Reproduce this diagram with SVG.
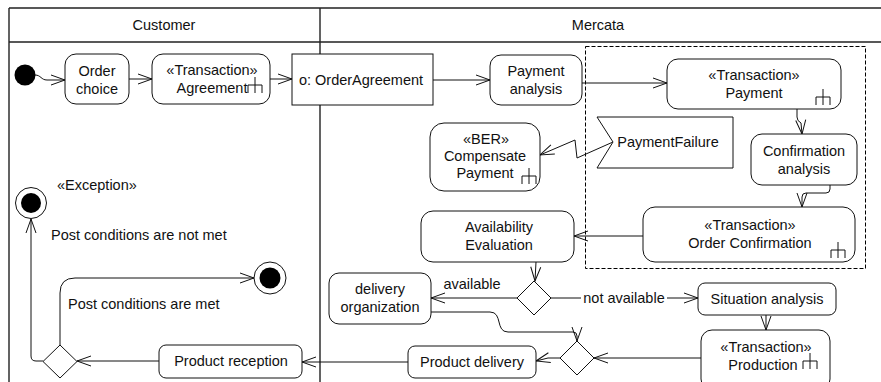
<svg xmlns="http://www.w3.org/2000/svg" width="881" height="382" viewBox="0 0 881 382">
<style>
.n{fill:#fff;stroke:#111;stroke-width:1}
.t{font-family:"Liberation Sans",Arial,sans-serif;font-size:14.5px;fill:#111;text-anchor:middle}
.s{font-family:"Liberation Sans",Arial,sans-serif;font-size:14.5px;fill:#111}
.c{fill:none;stroke:#111;stroke-width:1}
.f{fill:none;stroke:#222;stroke-width:1.4}
.r{fill:none;stroke:#111;stroke-width:1}
.d{fill:none;stroke:#000;stroke-width:1;stroke-dasharray:4,2}
</style>
<defs>
<marker id="a" viewBox="-15 -7 17 14" markerWidth="17" markerHeight="14" refX="0" refY="0" orient="auto" markerUnits="userSpaceOnUse">
<path d="M-14,-5 L0,0 L-14,5" fill="none" stroke="#111" stroke-width="1"/>
</marker>
<path id="rake" d="M0,0 V16 M-7,8 H7 M-7,8 V16 M7,8 V16" class="r"/>
</defs>

<g id="frame">
<path class="f" d="M9,8 H881 M9,42 H881 M9,8 V382 M320,8 V382"/>
<text class="t" x="164" y="30">Customer</text>
<text class="t" x="598" y="30">Mercata</text>
</g>

<g id="region">
<rect class="d" x="585.5" y="46.5" width="280" height="222"/>
</g>

<g id="connectors">
<path class="c" marker-end="url(#a)" d="M35,75 C41,75 41,80 47,80 L65,80"/>
<path class="c" marker-end="url(#a)" d="M129,79 H152"/>
<path class="c" marker-end="url(#a)" d="M270,79 H292"/>
<path class="c" marker-end="url(#a)" d="M433,80 H490"/>
<path class="c" marker-end="url(#a)" d="M582,83 H667"/>
<path class="c" marker-end="url(#a)" d="M797,109 V117 Q797,121 801,123 L802,134"/>
<path class="c" marker-end="url(#a)" d="M830,185 V189 Q830,193 826,193 H806 Q802,193 802,197 V207"/>
<path class="c" marker-end="url(#a)" d="M613,142 L577,158 L575,140 L540,155"/>
<path class="c" marker-end="url(#a)" d="M643,236 H574"/>
<path class="c" marker-end="url(#a)" d="M536,262 L535,281"/>
<path class="c" marker-end="url(#a)" d="M517,298 H431"/>
<path class="c" d="M551,298 H581"/>
<path class="c" marker-end="url(#a)" d="M667,298 H698"/>
<path class="c" marker-end="url(#a)" d="M766,315 V330"/>
<path class="c" marker-end="url(#a)" d="M701,358 H594"/>
<path class="c" marker-end="url(#a)" d="M431,312 H490 C503,312 495,332 508,332 H573 Q577,332 577,336 V341"/>
<path class="c" marker-end="url(#a)" d="M561,358 L548,358 L536,361"/>
<path class="c" marker-end="url(#a)" d="M408,362 H302"/>
<path class="c" marker-end="url(#a)" d="M159,361 H77"/>
<path class="c" marker-end="url(#a)" d="M43,361 H36 Q31,361 31,356 V219"/>
<path class="c" marker-end="url(#a)" d="M60,345 V293 Q60,278 75,278 H254"/>
<text class="t" x="472" y="289">available</text>
<text class="t" x="624" y="303">not available</text>
<text class="s" x="51" y="240">Post conditions are not met</text>
<text class="s" x="68" y="309">Post conditions are met</text>
</g>

<g id="initial">
<circle cx="25" cy="75" r="10.5" fill="#000"/>
</g>

<g id="orderChoice">
<rect class="n" x="65" y="54" width="64" height="50" rx="11"/>
<text class="t" x="97" y="76">Order</text>
<text class="t" x="97" y="94">choice</text>
</g>

<g id="agreement">
<rect class="n" x="152" y="54" width="118" height="50" rx="11"/>
<text class="t" x="212" y="75">«Transaction»</text>
<text class="t" x="212" y="93">Agreement</text>
<use href="#rake" x="255" y="77"/>
</g>

<g id="orderAgreement">
<rect class="n" x="292" y="54" width="141" height="51"/>
<text class="t" x="361" y="85">o: OrderAgreement</text>
</g>

<g id="paymentAnalysis">
<rect class="n" x="490" y="55" width="92" height="50" rx="11"/>
<text class="t" x="536" y="76">Payment</text>
<text class="t" x="536" y="94">analysis</text>
</g>

<g id="transactionPayment">
<rect class="n" x="667" y="59" width="174" height="50" rx="11"/>
<text class="t" x="754" y="80">«Transaction»</text>
<text class="t" x="754" y="98">Payment</text>
<use href="#rake" x="823" y="89"/>
</g>

<g id="paymentFailure">
<polygon class="n" points="597,117 733,117 733,168 597,168 613,142"/>
<text class="t" x="668" y="147">PaymentFailure</text>
</g>

<g id="compensatePayment">
<rect class="n" x="430" y="123" width="110" height="68" rx="14"/>
<text class="t" x="486" y="144">«BER»</text>
<text class="t" x="485" y="161">Compensate</text>
<text class="t" x="485" y="178">Payment</text>
<use href="#rake" x="529" y="168"/>
</g>

<g id="confirmationAnalysis">
<rect class="n" x="751" y="134" width="106" height="51" rx="11"/>
<text class="t" x="804" y="156">Confirmation</text>
<text class="t" x="804" y="174">analysis</text>
</g>

<g id="orderConfirmation">
<rect class="n" x="643" y="207" width="212" height="55" rx="12"/>
<text class="t" x="750" y="230">«Transaction»</text>
<text class="t" x="750" y="248">Order Confirmation</text>
<use href="#rake" x="838" y="242"/>
</g>

<g id="availabilityEvaluation">
<rect class="n" x="421" y="211" width="153" height="51" rx="12"/>
<text class="t" x="499" y="232">Availability</text>
<text class="t" x="499" y="250">Evaluation</text>
</g>

<g id="decisionAvailability">
<polygon class="n" points="534,281 551,298 534,315 517,298"/>
</g>

<g id="deliveryOrganization">
<rect class="n" x="329" y="273" width="102" height="51" rx="10"/>
<text class="t" x="380" y="294">delivery</text>
<text class="t" x="380" y="312">organization</text>
</g>

<g id="situationAnalysis">
<rect class="n" x="698" y="283" width="138" height="32" rx="7"/>
<text class="t" x="767" y="304">Situation analysis</text>
</g>

<g id="production">
<rect class="n" x="701" y="330" width="129" height="60" rx="11"/>
<text class="t" x="766" y="352">«Transaction»</text>
<text class="t" x="763" y="370">Production</text>
<use href="#rake" x="810" y="353"/>
</g>

<g id="decisionMerge">
<polygon class="n" points="577,341 594,358 577,375 560,358"/>
</g>

<g id="productDelivery">
<rect class="n" x="408" y="346" width="128" height="32" rx="7"/>
<text class="t" x="472" y="367">Product delivery</text>
</g>

<g id="productReception">
<rect class="n" x="159" y="345" width="143" height="33" rx="7"/>
<text class="t" x="231" y="366">Product reception</text>
</g>

<g id="decisionPost">
<polygon class="n" points="60,345 77,361.5 60,378 43,361.5"/>
</g>

<g id="finalException">
<circle cx="31" cy="203" r="15.5" class="n"/>
<circle cx="31" cy="203" r="10" fill="#000"/>
<text class="s" x="57" y="190">«Exception»</text>
</g>

<g id="finalSuccess">
<circle cx="270" cy="278" r="16" class="n"/>
<circle cx="270" cy="278" r="10.5" fill="#000"/>
</g>
</svg>
